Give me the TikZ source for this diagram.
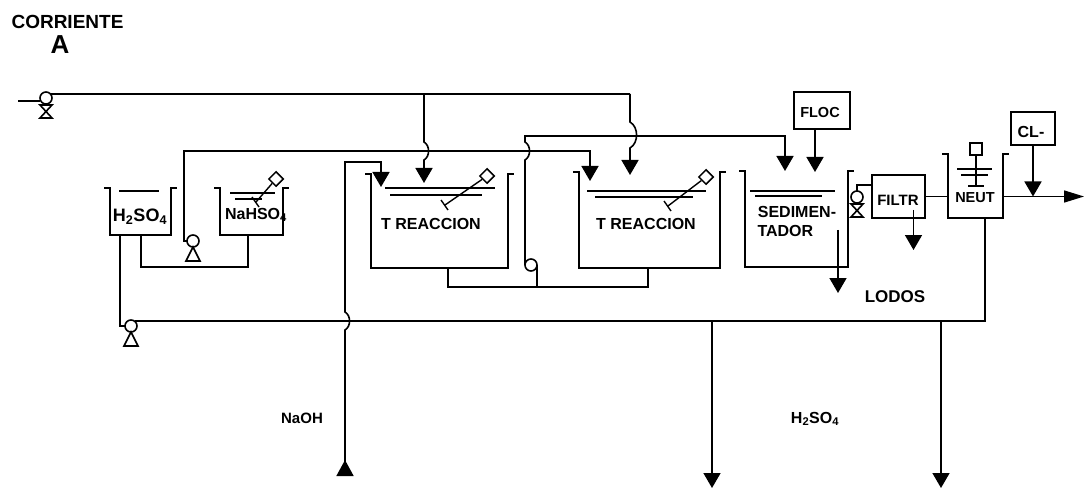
\documentclass[tikz,border=0pt]{standalone}
\usepackage{fontspec}
\setmainfont{Liberation Sans}
\usetikzlibrary{arrows.meta,shapes.geometric}

\begin{document}
\begin{tikzpicture}[x=1pt,y=-1pt,font=\bfseries\fontsize{16}{18}\selectfont,
 pipe/.style={draw,line width=1.6pt},
 flow/.style={pipe,-{Triangle[length=15pt,width=17pt]}},
 tankbox/.style={inner sep=0pt,outer sep=0pt},
 wall/.style={line width=1.8pt},
 box/.style={draw,line width=1.8pt,inner sep=0pt,outer sep=0pt},
 pumpc/.style={draw,circle,line width=1.6pt,minimum size=12pt,inner sep=0pt,outer sep=0pt},
 level/.style={line width=1.2pt}]
\useasboundingbox (0,0) rectangle (1084,489);
% tanks
\foreach \n/\x/\y/\w/\h in {ha/140.5/211.5/61/47,nb/251.5/211.5/63/47,ta/439.5/221/137/94,tb/649.5/220/141/96,se/796.5/219/103/96,ne/975.5/186/55/64}{
 \node[tankbox,minimum width=\w pt,minimum height=\h pt] (\n) at (\x,\y) {};
 \draw[wall] ([xshift=-6pt]\n.north west)--(\n.north west)--(\n.south west)--(\n.south east)--(\n.north east)--([xshift=6pt]\n.north east);
}
\node[box,minimum width=53pt,minimum height=43pt] (fi) at (898.5,196.5) {};
\node[box,minimum width=56pt,minimum height=37pt] (fl) at (822,110.5) {};
\node[box,minimum width=44pt,minimum height=33pt] (cl) at (1033,128.5) {};
% labels
\node[font=\bfseries\fontsize{19}{21}\selectfont,anchor=west] (lc) at (8,22) {CORRIENTE};
\node[font=\bfseries\fontsize{26}{28}\selectfont] (la) at (60,45) {A};
\node[font=\bfseries\fontsize{18}{20}\selectfont] (lh) at (140,217) {H\textsubscript{2}SO\textsubscript{4}};
\node[font=\bfseries\fontsize{16}{18}\selectfont] (ln) at (256,215) {NaHSO\textsubscript{4}};
\node (lta) at (431,224) {T REACCION};
\node (ltb) at (646,224) {T REACCION};
\node (lse) at (797,212) {SEDIMEN-};
\node[anchor=west] (lsf) at (754,231) {TADOR};
\node[font=\bfseries\fontsize{15}{17}\selectfont] (lfi) at (898,200) {FILTR};
\node[font=\bfseries\fontsize{14.5}{17}\selectfont] (lne) at (975,198) {NEUT};
\node[font=\bfseries\fontsize{14.5}{17}\selectfont] (lfl) at (820,113) {FLOC};
\node (lcl) at (1031,132) {CL-};
\node[font=\bfseries\fontsize{17}{19}\selectfont] (llo) at (895,297) {LODOS};
\node[font=\bfseries\fontsize{15}{17}\selectfont] (lna) at (302,418) {NaOH};
\node (ls) at (815,419) {H\textsubscript{2}SO\textsubscript{4}};
% pumps
\foreach \n/\x/\y in {pb/193/241,pc/131/326}{
 \node[pumpc] (\n) at (\x,\y) {};
 \draw[line width=1.6pt] (\n.south)--+(-7,14)--+(7,14)--cycle;
}
\foreach \n/\x/\y in {pa/46/98,pd/857/197}{
 \node[pumpc] (\n) at (\x,\y) {};
 \draw[line width=1.6pt] ([shift={(-6,1)}]\n.south)--+(12,13)--+(0,13)--+(12,0)--cycle;
}
\node[pumpc] (pe) at (531,265) {};
% agitators
\foreach \n/\x/\y/\u/\v in {da/276/179/256/202,db/487/176/445/205,dc/706/177/668/206}{
 \node[draw,diamond,line width=1.5pt,minimum size=15pt,inner sep=0pt] (\n) at (\x,\y) {};
 \coordinate (\n e) at (\u,\v);
 \draw[line width=1.4pt] (\n)--(\n e);
 \draw[line width=1.4pt] ([shift={(-4,-5)}]\n e)--([shift={(3,5)}]\n e);
}
\node[draw,line width=1.5pt,minimum size=12pt,inner sep=0pt] (dn) at (976,149) {};
\coordinate (dne) at (976,186);
\draw[line width=1.4pt] (dn.south)--(dne);
\draw[line width=1.4pt] (968,186)--(984,186);
% liquid levels
\foreach \a/\b/\c in {230/275/193,235/262/199,385/495/188,390/482/195,587/706/191,595/693/197,750/835/191,755/822/196,957/992/169,961/988/175}{
 \draw[level] (\a,\c)--(\b,\c);
}
\draw[line width=2.4pt] (119,191)--(159,191);
% main feed
\foreach \n/\x/\y in {ain/18/101,j1/424/94,k1/630/94,a1/424/183,a2/630/175,b1/184/151,b2/590/151,a3/590/181,
 c1/525/136,c2/785/136,a4/785/171,n1/345/476,n2/345/162,n3/381/162,a5/381/187,d1/448/287,d2/648/287,
 e1/141/267,e2/248/267,f1/985/321,g1/712/321,g2/712/488,g3/941/321,g4/941/488,h1/872/185,i1/838/230,i2/838/293,
 o1/1084/196,m1/120/326}{
 \coordinate (\n) at (\x,\y);
}
\draw[pipe] (ain)--(pa.west|-ain);
\draw[pipe] (pa.north east|-k1)--(k1);
\draw[flow] (j1)--(424,142) to[bend left=60] (424,160)--(a1);
\draw[flow] (k1)--(630,122) to[bend left=60] (630,148)--(a2);
\draw[flow] (pb.west)--(b1|-pb.west)--(b1)--(b2)--(a3);
\draw[flow] (pe.west)--(525,160) to[bend right=60] (525,142)--(c1)--(c2)--(a4);
\draw[{Triangle[length=16pt,width=17pt,reversed]}-{Triangle[length=15pt,width=17pt]},line width=1.6pt] (n1)--(345,330) to[bend right=60] (345,312)--(n2)--(n3)--(a5);
\draw[pipe] (d1|-ta.south)--(d1)--(d2)--(d2|-tb.south);
\draw[pipe] (pe.east)--(pe.east|-d1);
\draw[pipe] (e1|-ha.south)--(e1)--(e2)--(e2|-nb.south);
\draw[pipe] (m1|-ha.south)--(m1)--(pc.west);
\draw[pipe] (pc.north east|-f1)--(f1)--(f1|-ne.south);
\draw[flow] (g1)--(g2);
\draw[flow] (g3)--(g4);
\draw[pipe] (pd.north)|-(h1);
\draw[pipe] (fi.east)--(fi.east-|ne.west);
\draw[pipe,-{Triangle[length=20pt,width=12pt]}] (fi.east-|ne.east)--(o1|-fi.east);
\draw[flow] ([xshift=-7pt]fl.south)--++(0,43);
\draw[flow] (cl.south)--(cl.south|-fi.east);
\draw[flow] (i1)--(i2);
\draw[flow] ([shift={(15,-8)}]fi.south)--++(0,40);
\end{tikzpicture}
\end{document}
